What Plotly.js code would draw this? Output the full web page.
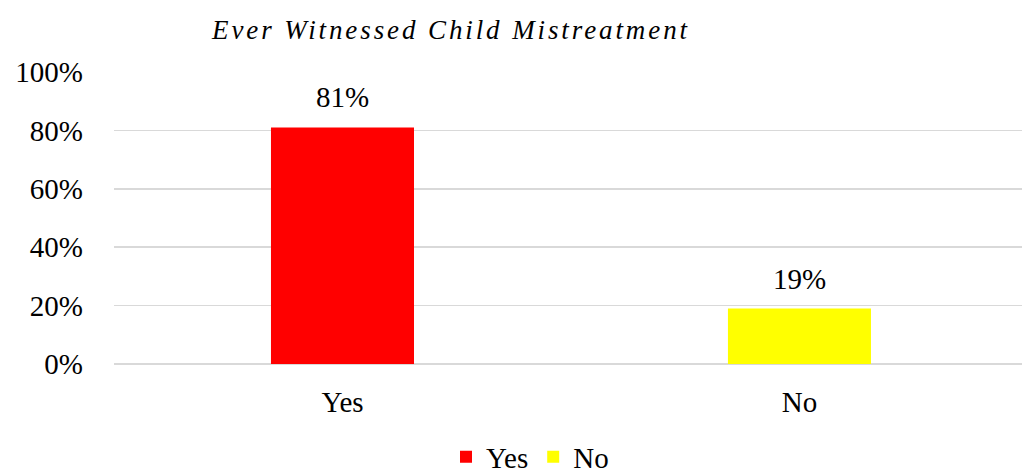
<!DOCTYPE html>
<html>
<head>
<meta charset="utf-8">
<script src="https://cdn.plot.ly/plotly-3.0.1.min.js"></script>
<style>
html,body{margin:0;padding:0;background:#fff;}
#chart{width:1022px;height:475px;}
.gtitle{letter-spacing:2.9px;}
</style>
</head>
<body>
<div id="chart"></div>
<script>
const categories = ["Yes", "No"];
const values = [0.81, 0.19];
const colors = ["#ff0000", "#ffff00"];
const titleText = "Ever Witnessed Child Mistreatment";
const tickVals = [0, 0.2, 0.4, 0.6, 0.8, 1.0];

const FONT = "Liberation Serif, Times New Roman, serif";

const traces = categories.map((c, i) => ({
  type: "bar",
  name: c,
  x: [c],
  y: [values[i]],
  width: 0.313,
  marker: { color: colors[i] },
  hoverinfo: "skip"
}));

const labelAnnotations = categories.map((c, i) => ({
  x: c,
  y: values[i],
  xref: "x",
  yref: "y",
  text: Math.round(values[i] * 100) + "%",
  showarrow: false,
  xanchor: "center",
  yanchor: "bottom",
  yshift: 12,
  font: { family: FONT, size: 29, color: "#000" }
}));

const layout = {
  width: 1022,
  height: 475,
  margin: { l: 114, r: 0, t: 72, b: 111, autoexpand: false },
  paper_bgcolor: "#fff",
  plot_bgcolor: "#fff",
  barmode: "overlay",
  font: { family: FONT, size: 29, color: "#000" },
  title: {
    text: "<i>" + titleText + "</i>",
    font: { family: FONT, size: 27, color: "#000" },
    xref: "container", x: 451 / 1022, xanchor: "center",
    yref: "container", y: 1 - 30 / 475, yanchor: "middle",
    automargin: false
  },
  xaxis: {
    type: "category",
    categoryarray: categories,
    range: [-0.5, 1.487],
    showgrid: false,
    showline: false,
    zeroline: false,
    ticks: "",
    ticklabelstandoff: 18,
    automargin: false,
    tickfont: { family: FONT, size: 29, color: "#000" }
  },
  yaxis: {
    range: [0, 1],
    tickvals: tickVals,
    tickformat: ".0%",
    showgrid: true,
    gridcolor: "#d9d9d9",
    gridwidth: 1.5,
    zeroline: true,
    zerolinecolor: "#d9d9d9",
    zerolinewidth: 1.5,
    showline: false,
    ticks: "",
    ticklabelstandoff: 30,
    automargin: false,
    tickfont: { family: FONT, size: 29, color: "#000" }
  },
  annotations: labelAnnotations,
  showlegend: true,
  legend: {
    orientation: "h",
    xref: "paper", x: (530 - 114) / 908, xanchor: "center",
    yref: "container", y: 1 - 457 / 475, yanchor: "middle",
    font: { family: FONT, size: 29, color: "#000" },
    itemwidth: 30,
    tracegroupgap: 0
  }
};

Plotly.newPlot("chart", traces, layout, { displayModeBar: false, staticPlot: true });
</script>
</body>
</html>
